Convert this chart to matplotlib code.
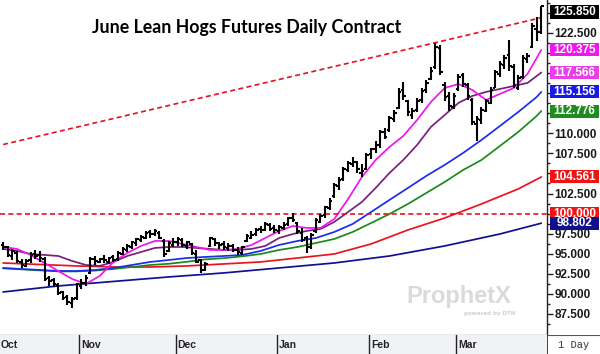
import matplotlib
matplotlib.use("Agg")
import matplotlib.pyplot as plt
from matplotlib.patches import Rectangle
import numpy as np

# ---------------- data ----------------
months = ["Oct", "Nov", "Dec", "Jan", "Feb", "Mar"]
bars_per_month = [17, 21, 22, 20, 19, 19]

opens = [96.1, 95.8, 94.7, 95.1, 94.0, 93.5, 94.2, 95.0, 94.9, 94.4, 92.0, 91.7, 91.1, 90.2, 89.6, 88.9, 89.5,
         91.0, 91.3, 92.6, 94.4, 94.0, 94.4, 94.0, 94.6, 94.3, 95.0, 95.5, 95.9, 96.3, 96.7, 97.0, 97.7, 97.4, 97.6, 96.6, 95.3, 96.1,
         96.4, 96.7, 96.0, 96.2, 95.0, 94.2, 93.0, 96.0, 96.8, 96.3, 96.2, 95.7, 96.0, 95.5, 95.1, 96.6, 97.0, 97.4, 98.1, 97.9, 98.6, 98.2,
         97.8, 98.2, 98.7, 99.5, 98.8, 97.6, 96.9, 95.9, 97.8, 99.0, 99.8, 100.7, 102.2, 103.4, 104.3, 105.4, 106.2, 106.4, 105.0, 105.6,
         107.4, 108.1, 108.6, 110.2, 110.4, 111.8, 113.2, 115.4, 114.0, 112.3, 112.9, 114.1, 115.4, 116.8, 118.3, 120.6, 116.0, 114.6, 113.3,
         115.5, 117.2, 116.0, 114.2, 111.2, 111.6, 112.8, 113.8, 115.7, 117.4, 118.5, 119.8, 118.2, 115.6, 117.0, 119.3, 120.8, 123.0, 122.6]
highs = [96.4, 96.0, 95.6, 95.3, 94.3, 94.4, 95.2, 95.5, 95.3, 94.6, 92.2, 92.0, 91.3, 90.4, 89.8, 89.6, 91.4,
         91.8, 92.3, 94.6, 94.7, 94.5, 94.8, 94.6, 94.8, 95.3, 95.8, 96.2, 96.6, 97.0, 97.3, 97.8, 98.0, 98.1, 97.8, 96.8, 96.6, 97.0,
         97.1, 96.9, 96.6, 96.3, 95.5, 94.4, 94.0, 97.1, 97.0, 96.5, 96.6, 96.3, 96.2, 95.8, 96.0, 97.5, 97.8, 98.2, 98.5, 98.9, 98.8, 98.6,
         98.6, 99.0, 99.6, 100.1, 99.0, 98.2, 97.2, 97.6, 99.4, 100.0, 101.0, 101.9, 103.8, 104.5, 105.8, 106.6, 107.0, 106.6, 106.2, 107.6,
         108.2, 109.0, 110.4, 110.6, 112.2, 112.9, 115.6, 116.4, 114.2, 113.2, 114.4, 115.6, 116.6, 118.2, 121.2, 121.0, 116.4, 115.1, 115.0,
         117.4, 117.5, 116.3, 114.4, 112.2, 113.3, 114.3, 115.8, 117.9, 119.0, 119.8, 121.6, 118.6, 117.2, 119.7, 120.0, 123.7, 124.5, 125.9]
lows = [95.5, 94.6, 94.2, 93.9, 93.2, 93.3, 93.9, 94.4, 94.0, 91.6, 91.0, 90.9, 89.8, 89.2, 88.6, 88.3, 89.3,
        90.6, 91.0, 92.5, 93.6, 93.8, 93.9, 93.7, 94.0, 94.1, 94.8, 95.2, 95.6, 96.0, 96.4, 96.8, 97.0, 97.2, 96.8, 94.6, 95.2, 95.8,
        96.0, 95.8, 95.6, 94.9, 93.8, 92.6, 92.8, 95.8, 96.0, 95.6, 95.5, 95.3, 95.2, 94.8, 94.9, 96.4, 96.8, 97.2, 97.6, 97.8, 97.8, 97.6,
        97.4, 97.9, 98.4, 98.9, 97.5, 96.4, 95.1, 95.6, 97.6, 98.8, 99.5, 100.5, 102.0, 103.0, 104.0, 105.2, 105.8, 105.1, 104.6, 105.4,
        106.8, 107.6, 108.2, 109.3, 110.2, 111.4, 113.0, 114.1, 112.1, 111.8, 112.6, 113.8, 115.0, 116.6, 118.0, 117.2, 114.0, 112.8, 113.0,
        115.3, 115.8, 114.2, 111.0, 109.1, 111.2, 112.6, 113.6, 115.6, 117.0, 118.0, 117.8, 115.6, 115.4, 116.8, 118.8, 120.6, 121.5, 122.4]
closes = [95.9, 94.8, 95.3, 94.1, 93.6, 94.1, 94.9, 94.7, 94.5, 91.9, 91.6, 91.2, 90.1, 89.5, 89.0, 89.4, 91.2,
          91.4, 92.0, 94.3, 94.1, 94.3, 94.2, 94.5, 94.2, 95.1, 95.6, 96.0, 96.4, 96.8, 97.1, 97.6, 97.5, 97.8, 97.0, 95.0, 96.3, 96.5,
          96.8, 96.1, 96.4, 95.1, 94.0, 93.0, 93.7, 96.9, 96.3, 96.1, 95.8, 96.0, 95.5, 95.2, 95.8, 97.2, 97.3, 98.0, 97.9, 98.7, 98.1, 97.9,
          98.3, 98.6, 99.4, 99.2, 97.8, 96.7, 95.8, 97.3, 99.2, 99.7, 100.8, 101.6, 103.5, 104.2, 105.5, 106.3, 106.4, 105.5, 105.3, 107.3,
          108.0, 108.5, 110.1, 109.6, 111.9, 112.5, 115.2, 114.6, 112.6, 112.8, 114.0, 115.3, 116.3, 117.8, 120.8, 117.6, 114.5, 113.4, 114.6,
          117.0, 116.2, 114.6, 111.4, 111.8, 112.9, 114.0, 115.4, 117.6, 118.6, 119.4, 118.4, 116.0, 116.9, 119.4, 119.6, 123.3, 122.6, 125.85]

ma9_idx = list(range(0, 118, 3))
ma9 = [95.84, 95.6, 94.85, 93.85, 92.85, 91.86, 91.24, 92.23, 93.98, 95.1, 95.97, 96.59, 96.59, 96.22,
       95.84, 95.47, 95.47, 95.6, 96.09, 96.96, 97.84, 98.46, 98.21, 98.21, 99.33, 101.82, 104.56, 106.68,
       108.3, 109.67, 111.66, 113.9, 115.64, 116.14, 115.4, 114.15, 114.9, 115.64, 117.39, 120.375]
ma18_idx = list(range(0, 118, 3))
ma18 = [95.6, 95.35, 94.97, 94.85, 94.72, 94.1, 93.6, 93.48, 93.98, 94.72, 95.22, 95.72, 95.84, 95.84,
        95.72, 95.6, 95.47, 95.47, 95.6, 95.97, 96.96, 97.46, 97.84, 98.08, 98.96, 100.2, 101.45, 103.2,
        105.06, 106.68, 108.55, 110.79, 112.28, 113.78, 114.65, 115.15, 115.52, 115.89, 116.27, 117.566]
ma40_idx = list(range(0, 117, 4)) + [117]
ma40 = [93.23, 93.1, 92.98, 92.85, 92.85, 92.98, 93.23, 93.6, 93.98, 94.22, 94.47, 94.6, 94.72, 94.85,
        95.35, 96.09, 96.59, 96.96, 97.71, 98.71, 100.2, 101.7, 103.19, 104.69, 106.06, 107.55, 109.17,
        110.91, 112.66, 114.52, 115.156]
ma50_idx = list(range(0, 117, 4)) + [117]
ma50 = [93.18, 93.05, 92.93, 92.8, 92.8, 92.9, 93.1, 93.35, 93.6, 93.75, 94.0, 94.3, 94.45, 94.68,
        94.97, 95.47, 95.84, 96.34, 96.84, 97.71, 98.83, 99.95, 101.2, 102.57, 103.94, 105.43, 106.68,
        108.42, 110.17, 112.16, 112.776]
ma100_idx = list(range(0, 113, 8)) + [117]
ma100 = [93.85, 93.66, 93.48, 93.35, 93.35, 93.48, 93.73, 93.98, 94.47, 94.97, 96.22, 97.96, 99.45,
         101.2, 103.07, 104.561]
ma200_idx = list(range(0, 109, 12)) + [117]
ma200 = [90.24, 90.99, 91.55, 92.11, 92.61, 93.23, 93.85, 94.72, 95.97, 97.46, 98.802]

trend_idx = [0, 117]
trend_val = [108.6, 124.4]
support_level = 100.0

title = "June Lean Hogs Futures Daily Contract"

# ---------------- styling ----------------
FW, FH = 600, 354
fig = plt.figure(figsize=(FW / 100, FH / 100), dpi=100)
fig.patch.set_facecolor("white")

px_l, px_r, px_b = 0, 547, 335
ax = fig.add_axes([px_l / FW, 1 - px_b / FH, (px_r - px_l) / FW, px_b / FH])
ax.set_facecolor("white")
ax.set_xlim(-0.674, 118.24)
ax.set_ylim(84.88, 126.60)

n = len(closes)
x = np.arange(n)

# moving averages
ma_specs = [
    (ma200_idx, ma200, "#101090"),
    (ma100_idx, ma100, "#e8141e"),
    (ma50_idx, ma50, "#1a8a1a"),
    (ma40_idx, ma40, "#1a2cf0"),
    (ma18_idx, ma18, "#7a1f7a"),
    (ma9_idx, ma9, "#f014f0"),
]
for idx, vals, col in ma_specs:
    ax.plot(idx, vals, color=col, lw=1.25, solid_capstyle="round", zorder=2)

# dashed lines
ax.plot(trend_idx, trend_val, color="#e8101e", lw=1.2, ls=(0, (3, 2)), zorder=3)
ax.axhline(support_level, color="#e8101e", lw=1.2, ls=(0, (3, 2)), zorder=3)

# OHLC bars
tick = 0.55
ax.vlines(x, lows, highs, color="black", lw=1.5, zorder=4)
ax.hlines(opens, x - tick, x, color="black", lw=1.5, zorder=4)
ax.hlines(closes, x, x + tick, color="black", lw=1.5, zorder=4)

# axes styling
for s in ["top", "left"]:
    ax.spines[s].set_visible(False)
ax.spines["right"].set_color("#222222")
ax.spines["right"].set_linewidth(1.0)
ax.spines["bottom"].set_color("#9a9a9a")
ax.spines["bottom"].set_linewidth(1.0)
ax.spines["bottom"].set_linestyle((0, (2, 1)))
ax.set_xticks([])
ax.yaxis.tick_right()
yt = np.arange(87.5, 126, 2.5)
hidden = {125.0, 120.0, 117.5, 115.0, 112.5, 105.0, 100.0}   # covered by value boxes
ax.set_yticks(yt)
ax.set_yticklabels(["" if round(v, 2) in hidden else f"{v:.3f}" for v in yt], fontsize=8.5,
                   family="Liberation Sans", color="#1a1a1a", fontweight="bold")
ax.set_yticks(np.arange(86.25, 126.5, 1.25), minor=True)
ax.tick_params(axis="y", which="major", length=4, width=1, color="#222222", pad=1.5)
ax.tick_params(axis="y", which="minor", length=2, width=1, color="#222222")

# title
ax.text(0.451, 0.917, title, transform=ax.transAxes, ha="center", va="center",
        fontsize=12.8, fontweight="bold", family="Lato", color="black", zorder=6)

# watermark
fig.text(406 / FW, 1 - 296 / FH, "ProphetX", fontsize=17, fontweight="bold",
         family="Liberation Sans", color="#dadada", ha="left", va="center", zorder=1)
fig.text(515 / FW, 1 - 314 / FH, "powered by DTN", fontsize=4, fontweight="bold",
         family="DejaVu Sans", color="#d0d0d0", ha="right", va="center", zorder=1)

# date strip
dax = fig.add_axes([0, 0, px_r / FW, (FH - px_b) / FH])
dax.set_facecolor("#f1f2f5")
dax.set_xlim(ax.get_xlim())
dax.set_ylim(0, 1)
dax.set_xticks([])
dax.set_yticks([])
for s in dax.spines.values():
    s.set_visible(False)
starts = np.concatenate([[0], np.cumsum(bars_per_month)[:-1]])
for k, (m, s0) in enumerate(zip(months, starts)):
    if k == 0:
        dax.text(-0.55, 0.45, m, fontsize=7.5, family="Liberation Sans", color="#222222",
                 fontweight="bold", ha="left", va="center")
    else:
        sep = s0 - 0.5
        dax.axvline(sep, color="#222222", lw=1.0)
        dax.text(sep + 0.45, 0.45, m, fontsize=7.5, family="Liberation Sans", color="#222222",
                 fontweight="bold", ha="left", va="center")
# right strip below the price scale
rax = fig.add_axes([px_r / FW, 0, (FW - px_r) / FW, (FH - px_b) / FH])
rax.set_facecolor("white")
rax.set_xticks([]); rax.set_yticks([])
for s in rax.spines.values():
    s.set_visible(False)
rax.axvline(0.0, color="#222222", lw=1.2)
rax.axhline(1.0, color="#555555", lw=0.8)
rax.text(0.5, 0.45, "1 Day", fontsize=7.5, family="Liberation Mono", color="#333333",
         ha="center", va="center")

# value boxes on the price scale
boxes = [
    (125.85, "#000000"),
    (120.375, "#f014f0"),
    (117.566, "#e83ee8"),
    (115.156, "#1a1ae6"),
    (112.776, "#1e8c1e"),
    (104.561, "#ee1414"),
    (100.0, "#ee1414"),
    (98.802, "#10108c"),
]
fig.canvas.draw()
for val, col in boxes:
    ydisp = ax.transData.transform((0, val))[1]
    ypx = FH - ydisp
    ypx = max(ypx, 12)
    bh = 13
    rect = Rectangle(((px_r + 3) / FW, 1 - (ypx + bh / 2) / FH), 49 / FW, bh / FH,
                     transform=fig.transFigure, facecolor=col, edgecolor="none", zorder=10)
    fig.patches.append(rect)
    fig.text((px_r + 3 + 24.5) / FW, 1 - ypx / FH, f"{val:.3f}", color="white", fontsize=8.5,
             family="Liberation Sans", fontweight="bold", ha="center", va="center", zorder=11)

fig.savefig("out.png", dpi=100)
